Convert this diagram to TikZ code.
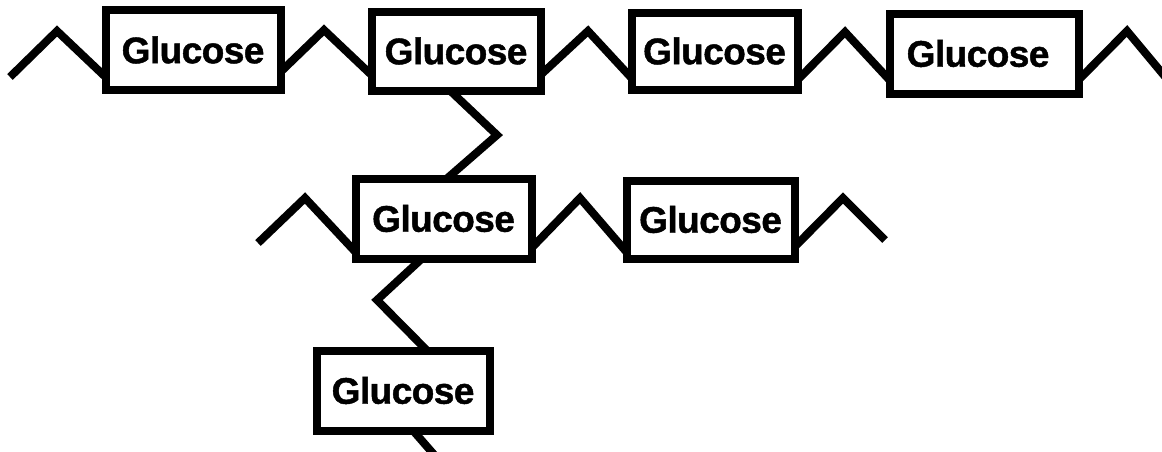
\documentclass[tikz,border=0pt]{standalone}
\usepackage{fontspec}
\setmainfont{Liberation Sans}
\newfontfamily\heavy[FakeBold=1.2,LetterSpace=-1.5]{Liberation Sans Bold}
\begin{document}
\begin{tikzpicture}[x=1pt,y=-1pt,
  glu/.style={draw=black,line width=8pt,inner sep=0pt,outer sep=0pt,
    minimum width=175pt,minimum height=80pt,
    font=\fontsize{37}{40}\selectfont\heavy},
  link/.style={draw=black,line width=8pt,line join=miter,line cap=butt}]
\clip (0,0) rectangle (1162,451);
\fill[white] (0,0) rectangle (1162,451);
% top chain
\node[glu] (b1) at (193,50) {Glucose};
\node[glu,minimum width=169pt,minimum height=79pt] (b2) at (456,51) {Glucose};
\node[glu,minimum width=166pt,minimum height=77pt] (b3) at (714.5,51) {Glucose};
\node[glu,minimum width=189pt] (b4) at (984,53.5) {Glucose\hspace*{12pt}};
% middle chain
\node[glu,minimum width=176pt] (b5) at (443.5,218.5) {Glucose};
\node[glu,minimum width=168pt,minimum height=78pt] (b6) at (710.5,219.5) {Glucose};
% bottom
\node[glu,minimum width=173pt] (b7) at (403,390.5) {Glucose};
\coordinate (l1) at (10,77);
\coordinate (r4) at (1172,85);
\coordinate (l5) at (258,243);
\coordinate (r6) at (885,240);
\coordinate (d7) at (437,458);
% top links
\draw[link] (l1) -- (57,31) -- (b1.west |- 0,77);
\draw[link] (b1.east |- 0,72) -- (324,30) -- (b2.west |- 0,75);
\draw[link] (b2.east |- 0,75) -- (588,31) -- (b3.west |- 0,78);
\draw[link] (b3.east |- 0,80) -- (845,32) -- (b4.west |- 0,80);
\draw[link] (b4.east |- 0,80) -- (1127,31) -- (r4);
% branch links
\draw[link] (b2.south -| 450,0) -- (497,135) -- (b5.north -| 447,0);
\draw[link] (l5) -- (305,198) -- (b5.west |- 0,252);
\draw[link] (b5.east |- 0,248) -- (580,198) -- (b6.west |- 0,252);
\draw[link] (b6.east |- 0,247) -- (843,198) -- (r6);
\draw[link] (b5.south -| 422,0) -- (377,300) -- (b7.north -| 427,0);
\draw[link] (b7.south -| 413,0) -- (d7);
\end{tikzpicture}
\end{document}
